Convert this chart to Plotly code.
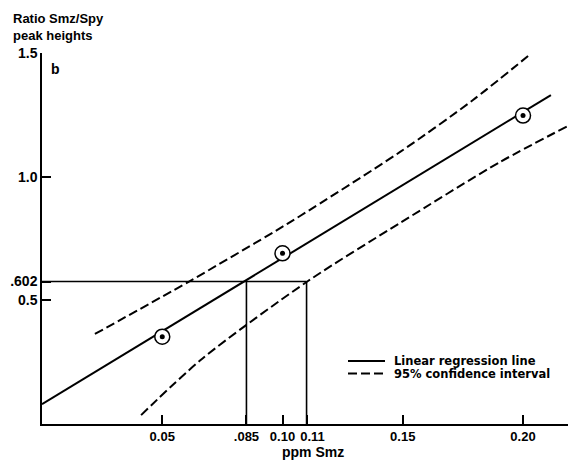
import plotly.graph_objects as go

# ---- data ----
ppm_points = [0.05, 0.10, 0.20]
ratio_points = [0.353, 0.690, 1.247]

reg_x = [0.0, 0.2116]
reg_y = [0.080, 1.330]

upper_x = [0.0220, 0.0615, 0.0977, 0.1073, 0.1489, 0.1792, 0.2021]
upper_y = [0.364, 0.578, 0.784, 0.841, 1.100, 1.310, 1.488]

lower_x = [0.0412, 0.0665, 0.1106, 0.1489, 0.1904, 0.2187]
lower_y = [0.036, 0.263, 0.578, 0.813, 1.059, 1.205]

# reading of the unknown: ratio .602 (drawn level on the axis) -> .085 ppm, limits .11
read_level = 0.576
read_level_label = ".602"
read_ppm = [0.085, 0.11]

x_tickvals = [0.05, 0.085, 0.10, 0.15, 0.20]
x_ticktext = ["0.05", ".085", "0.10", "0.15", "0.20"]
x2_tickvals = [0.11]
x2_ticktext = ["0.11"]
y_tickvals = [0.5, read_level, 1.0, 1.5]
y_ticktext = ["0.5", read_level_label, "1.0", "1.5"]

legend_labels = ["Linear regression line", "95% confidence interval"]

FONT = "Liberation Sans"
LFONT = "DejaVu Sans"
BLACK = "#000000"

fig = go.Figure()

# reading lines (on the overlaid x axis that carries the 0.11 label)
fig.add_trace(go.Scatter(
    x=[0, read_ppm[1], None, read_ppm[0], read_ppm[0], None, read_ppm[1], read_ppm[1]],
    y=[read_level, read_level, None, 0, read_level, None, 0, read_level],
    xaxis="x2",
    mode="lines", line=dict(color=BLACK, width=1.6), showlegend=False, hoverinfo="skip"))

fig.add_trace(go.Scatter(x=reg_x, y=reg_y, mode="lines", name=legend_labels[0],
                         line=dict(color=BLACK, width=2), showlegend=False))
fig.add_trace(go.Scatter(x=upper_x, y=upper_y, mode="lines", name=legend_labels[1],
                         line=dict(color=BLACK, width=2, dash="9px,4px", shape="spline", smoothing=0.8),
                         showlegend=False))
fig.add_trace(go.Scatter(x=lower_x, y=lower_y, mode="lines", name=legend_labels[1],
                         line=dict(color=BLACK, width=2, dash="9px,4px", shape="spline", smoothing=0.8),
                         showlegend=False))

# points: open circle with centre dot
fig.add_trace(go.Scatter(x=ppm_points, y=ratio_points, mode="markers",
                         marker=dict(symbol="circle", size=15, color="white",
                                     line=dict(color=BLACK, width=1.5)),
                         showlegend=False))
fig.add_trace(go.Scatter(x=ppm_points, y=ratio_points, mode="markers",
                         marker=dict(symbol="circle", size=5, color=BLACK),
                         showlegend=False))

W, H = 574, 461
ml, mr, mt, mb = 42, 6, 53, 37
pw, ph = W - ml - mr, H - mt - mb


def px_x(p):
    return (p - ml) / pw


def px_y(p):
    return (H - mb - p) / ph


# legend drawn as shapes + text
shapes = [
    dict(type="line", xref="paper", yref="paper", x0=px_x(348), x1=px_x(385),
         y0=px_y(361), y1=px_y(361), line=dict(color=BLACK, width=2)),
    dict(type="line", xref="paper", yref="paper", x0=px_x(348), x1=px_x(385),
         y0=px_y(373.5), y1=px_y(373.5), line=dict(color=BLACK, width=2, dash="9px,4px")),
]

annotations = [
    dict(xref="paper", yref="paper", x=px_x(392), y=px_y(361), text=legend_labels[0],
         showarrow=False, xanchor="left", yanchor="middle",
         font=dict(family=LFONT, size=11.5, color=BLACK, weight="bold")),
    dict(xref="paper", yref="paper", x=px_x(392), y=px_y(373.5), text=legend_labels[1],
         showarrow=False, xanchor="left", yanchor="middle",
         font=dict(family=LFONT, size=11.5, color=BLACK, weight="bold")),
    dict(xref="paper", yref="paper", x=px_x(11), y=px_y(9), text="Ratio Smz/Spy<br>peak heights",
         showarrow=False, xanchor="left", yanchor="top", align="left",
         font=dict(family=FONT, size=13, color=BLACK, weight="bold")),
    dict(xref="paper", yref="paper", x=px_x(49), y=px_y(69), text="b",
         showarrow=False, xanchor="left", yanchor="middle",
         font=dict(family=FONT, size=14, color=BLACK, weight="bold")),
    dict(xref="paper", yref="paper", x=px_x(313), y=px_y(452), text="ppm Smz",
         showarrow=False, xanchor="center", yanchor="middle",
         font=dict(family=FONT, size=14, color=BLACK, weight="bold")),
]

tickfont_x = dict(family=FONT, size=13, color=BLACK, weight="bold")

fig.update_layout(
    width=W, height=H,
    margin=dict(l=ml, r=mr, t=mt, b=mb),
    paper_bgcolor="white", plot_bgcolor="white",
    showlegend=False,
    shapes=shapes, annotations=annotations,
    xaxis=dict(range=[0, 0.2187], showgrid=False, zeroline=False, automargin=False,
               showline=True, linecolor=BLACK, linewidth=1.5,
               ticks="inside", ticklen=9, tickwidth=1.5, tickcolor=BLACK,
               tickvals=x_tickvals, ticktext=x_ticktext, tickangle=0,
               tickfont=tickfont_x),
    xaxis2=dict(overlaying="x", matches="x", side="bottom", anchor="y",
                range=[0, 0.2187], showgrid=False, zeroline=False, automargin=False,
                showline=True, linecolor=BLACK, linewidth=1.5,
                ticks="inside", ticklen=9, tickwidth=1.5, tickcolor=BLACK,
                tickvals=x2_tickvals, ticktext=x2_ticktext,
                tickangle=0, ticklabelshift=6, tickfont=tickfont_x),
    yaxis=dict(range=[0, 1.5], showgrid=False, zeroline=False, automargin=False,
               showline=True, linecolor=BLACK, linewidth=1.5,
               ticks="inside", ticklen=9, tickwidth=1.5, tickcolor=BLACK,
               tickvals=y_tickvals, ticktext=y_ticktext,
               tickfont=dict(family=FONT, size=14, color=BLACK, weight="bold")),
)

# remove the browser's default 8px page margin so the figure sits at the window origin
fig.write_html("out.html", config={"displayModeBar": False},
               post_script="document.body.style.margin='0';")
